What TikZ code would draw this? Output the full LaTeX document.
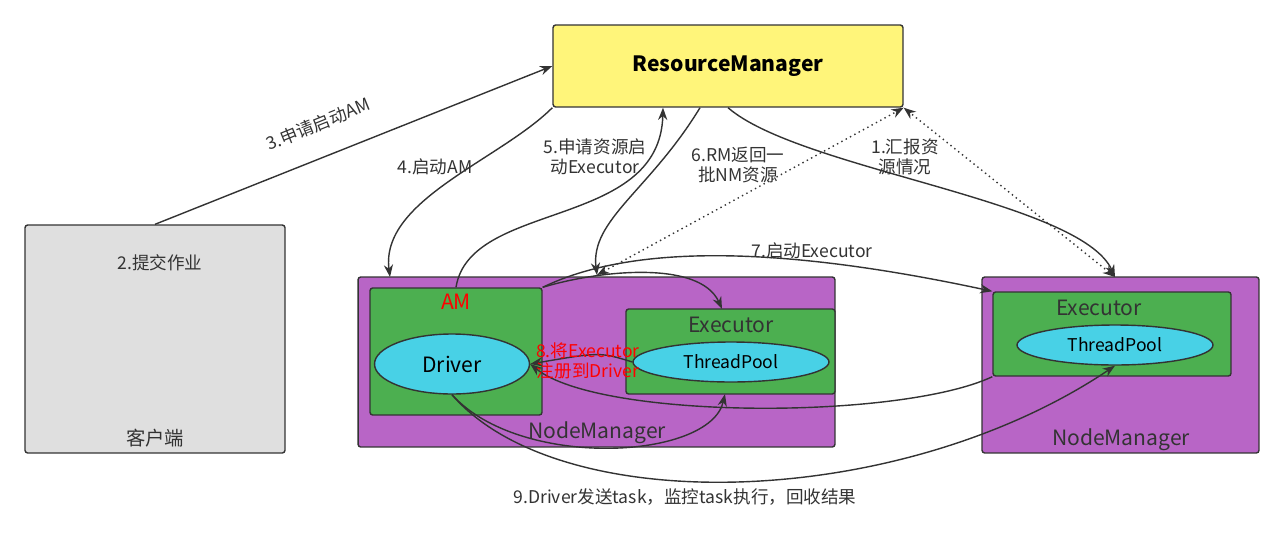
\documentclass[tikz,border=0pt]{standalone}
\usepackage{fontspec}
\setmainfont{Noto Sans CJK SC}
\usetikzlibrary{arrows.meta,shapes.geometric}
\definecolor{rmyellow}{HTML}{FFF57A}
\definecolor{nmpurple}{HTML}{B865C6}
\definecolor{amgreen}{HTML}{4CAF50}
\definecolor{poolcyan}{HTML}{48D1E6}
\definecolor{edge}{HTML}{333333}
\tikzset{
  box/.style={draw=edge, thick, rounded corners=1.5pt, inner sep=0pt},
  pool/.style={ellipse, draw=edge, thick, fill=poolcyan, inner sep=0pt},
  link/.style={-{Stealth[length=7pt]}, thick, draw=edge},
  dots/.style={{Stealth[length=7pt]}-{Stealth[length=7pt]}, thick, dotted, draw=edge},
  lbl/.style={font=\fontsize{10}{11.5}\selectfont, text=edge, align=center}
}
\begin{document}
\begin{tikzpicture}[x=0.02cm, y=-0.02cm]
  \useasboundingbox (0,0) rectangle (1284,558);

  % Boxes
  \node[box, fill=rmyellow, minimum width=7cm, minimum height=1.64cm, font=\bfseries\fontsize{12}{14}\selectfont] (rm) at (728,66) {ResourceManager};
  \node[box, fill=gray!25, minimum width=5.2cm, minimum height=4.56cm] (client) at (155,339) {};
  \node[lbl] (submit) at (160,263) {2.提交作业};
  \node[font=\fontsize{11}{12}\selectfont, text=edge] (clientlbl) at (155,438) {客户端};

  \node[box, fill=nmpurple, minimum width=9.54cm, minimum height=3.4cm] (nma) at (596.5,362) {};
  \node[font=\fontsize{12}{14}\selectfont, text=edge] (nmalbl) at (597,433) {NodeManager};
  \node[box, fill=amgreen, minimum width=3.44cm, minimum height=2.54cm] (am) at (456,351.5) {};
  \node[font=\fontsize{12}{14}\selectfont, text=red] (amlbl) at (456,302) {AM};
  \node[pool, minimum width=3.1cm, minimum height=1.2cm, font=\fontsize{12}{14}\selectfont] (driver) at (452,364) {Driver};
  \node[box, fill=amgreen, minimum width=4.18cm, minimum height=1.7cm] (exa) at (730.5,351.5) {};
  \node[font=\fontsize{12}{14}\selectfont, text=edge] (exalbl) at (731,325) {Executor};
  \node[pool, minimum width=3.92cm, minimum height=0.8cm, font=\fontsize{10}{12}\selectfont] (poola) at (731,362) {ThreadPool};

  \node[box, fill=nmpurple, minimum width=5.54cm, minimum height=3.52cm] (nmb) at (1120.5,365) {};
  \node[font=\fontsize{12}{14}\selectfont, text=edge] (nmblbl) at (1121,440) {NodeManager};
  \node[box, fill=amgreen, minimum width=4.76cm, minimum height=1.68cm] (exb) at (1112,334) {};
  \node[font=\fontsize{12}{14}\selectfont, text=edge] (exblbl) at (1099,308) {Executor};
  \node[pool, minimum width=3.92cm, minimum height=0.8cm, font=\fontsize{10}{12}\selectfont] (poolb) at (1115,345) {ThreadPool};

  % Anchor points
  \coordinate (nmatop) at (597,275);
  \coordinate (nmbtop) at (1115,277);
  \coordinate (amin) at (390,277);
  \coordinate (exatop) at (722,309);
  \coordinate (exabot) at (725,394);

  % Connectors
  \draw[link] (client.north) -- (rm.west);
  \node[lbl, rotate=22] (l3) at (318,124) {3.申请启动AM};
  \draw[link] (rm.south west) .. controls (500,160) and (380,200) .. (amin);
  \node[lbl] (l4) at (435,167) {4.启动AM};
  \draw[link] (am.north) .. controls (470,200) and (660,230) .. ([xshift=-1.3cm]rm.south);
  \node[lbl] (l5) at (595,157) {5.申请资源启\\动Executor};
  \draw[link] ([xshift=-0.56cm]rm.south) .. controls (650,190) and (590,220) .. (nmatop);
  \node[lbl] (l6) at (738,165) {6.RM返回一\\批NM资源};
  \draw[dots] (nmatop) -- (rm.south east);
  \draw[dots] (nmbtop) -- (rm.south east);
  \node[lbl] (l1) at (905,157) {1.汇报资\\源情况};
  \draw[link] (rm.south) .. controls (800,170) and (1080,200) .. (nmbtop);

  \draw[link] (am.north east) .. controls (600,270) and (700,260) .. (exatop);
  \draw[link] (am.north east) .. controls (640,240) and (800,250) .. (exb.north west);
  \node[lbl] (l7) at (812,251) {7.启动Executor};

  \draw[link] (exb.south west) .. controls (900,420) and (600,420) .. (driver.east);
  \draw[link] (poola.west) .. controls (600,352) .. (driver.east);
  \node[lbl, text=red] (l8) at (588,361) {8.将Executor\\注册到Driver};

  \draw[link] (driver.south) .. controls (520,470) and (710,460) .. (exabot);
  \draw[link] (driver.south) .. controls (560,520) and (900,510) .. (poolb.south);
  \node[lbl] (l9) at (685,497) {9.Driver发送task，监控task执行，回收结果};
\end{tikzpicture}
\end{document}
